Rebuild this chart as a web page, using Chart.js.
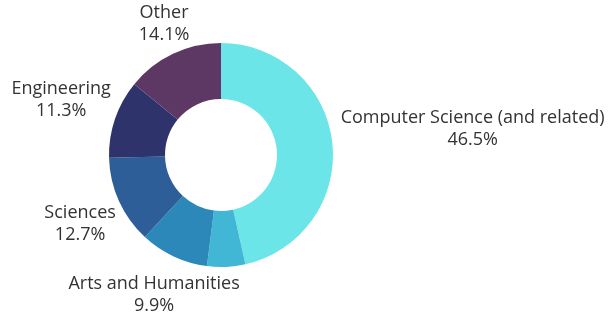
<!DOCTYPE html>
<html lang="en">
<head>
  <meta charset="UTF-8">
  <title>Field of Study</title>
  <script src="https://cdn.jsdelivr.net/npm/chart.js"></script>
  <style>
    html, body { margin: 0; padding: 0; background: #fff; }
    #wrap { width: 608px; height: 315px; }
  </style>
</head>
<body>
  <div id="wrap"><canvas id="fieldChart" width="608" height="315"></canvas></div>

  <script>
    // slices clockwise from the top
    const categories = ["Computer Science (and related)", "", "Arts and Humanities", "Sciences", "Engineering", "Other"];
    const shares = [46.5, 5.5, 9.9, 12.7, 11.3, 14.1];
    const sliceColors = ["#6be5e8", "#42b7d5", "#2b88b8", "#2d5e98", "#2f336b", "#5e3864"];

    // labels outside the ring, pushed away along each slice's middle
    const outerLabels = {
      id: 'outerLabels',
      afterDatasetsDraw(chart) {
        const ctx = chart.ctx;
        const meta = chart.getDatasetMeta(0);
        const lineH = 22;
        const gap = 10;
        ctx.save();
        ctx.font = '18px "Open Sans", sans-serif';
        ctx.fillStyle = '#333';
        ctx.textAlign = 'center';
        ctx.textBaseline = 'alphabetic';
        meta.data.forEach((arc, i) => {
          if (!categories[i]) return;
          const lines = [categories[i], shares[i].toFixed(1) + '%'];
          const w = Math.max(...lines.map(t => ctx.measureText(t).width));
          const a = (arc.startAngle + arc.endAngle) / 2;
          const ux = Math.cos(a), uy = Math.sin(a);
          const r = arc.outerRadius + gap;
          const ax = arc.x + ux * r;
          const ay = arc.y + uy * r;
          const cx = ax + ux * Math.abs(ux) * w / 2;
          let y0;
          if (uy < 0) {
            // upper half: block sits above the anchor
            y0 = ay + 4 + 10 * uy - lineH * (lines.length - 1);
          } else {
            // lower half: block hangs below it
            y0 = ay + 4 + 22 * uy;
          }
          lines.forEach((t, k) => ctx.fillText(t, cx, y0 + k * lineH));
        });
        ctx.restore();
      }
    };

    new Chart(document.getElementById('fieldChart'), {
      type: 'doughnut',
      data: {
        labels: categories,
        datasets: [{
          data: shares,
          backgroundColor: sliceColors,
          borderWidth: 0
        }]
      },
      options: {
        responsive: false,
        animation: false,
        cutout: '50%',
        layout: { padding: { left: 109, right: 275, top: 43, bottom: 48 } },
        plugins: {
          legend: { display: false },
          tooltip: { enabled: false }
        }
      },
      plugins: [outerLabels]
    });
  </script>
</body>
</html>
